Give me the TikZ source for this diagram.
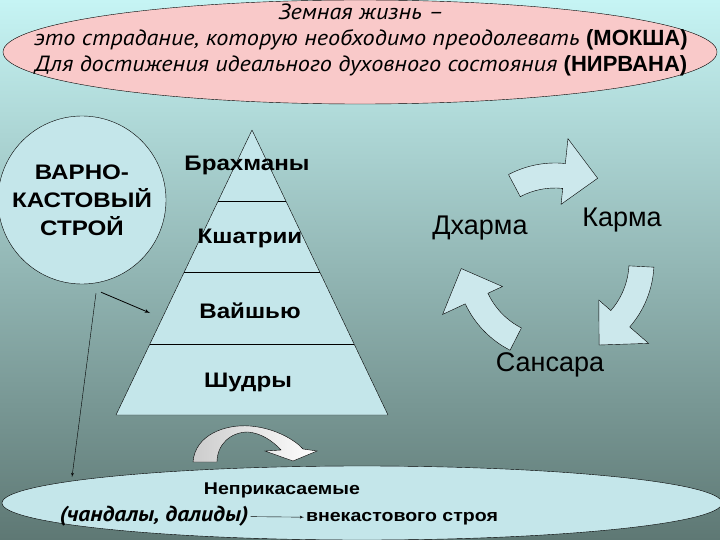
\documentclass[tikz,border=0pt]{standalone}
\usepackage{fontspec}
\setmainfont{Liberation Sans}
\newfontfamily\cursivefont[FakeStretch=1.1]{PT Sans}
\newfontfamily\widefont[FakeStretch=1.15]{Liberation Sans}
\usetikzlibrary{shapes.geometric,positioning,calc,arrows}

\definecolor{bgtop}{RGB}{198,244,244}
\definecolor{bgmid}{RGB}{158,198,198}
\definecolor{bgbot}{RGB}{94,120,116}
\definecolor{lifepink}{RGB}{249,201,201}
\definecolor{castefill}{RGB}{196,230,234}
\definecolor{cyclefill}{RGB}{204,232,236}

\tikzstyle{every node}=[text centered]
\tikzstyle{caste} = [font=\widefont\bfseries\fontsize{21}{25}\selectfont]
\tikzstyle{cycleword} = [font=\fontsize{27}{30}\selectfont]
\tikzstyle{lowtext} = [font=\widefont\bfseries\fontsize{17}{20}\selectfont, inner sep=2pt]
\tikzstyle{line} = [draw, -latex']
\tikzstyle{cyclearrowstyle} = [draw, fill=cyclefill, line join=miter]

\newcommand\cyclearrow[2]{%
  \draw[cyclearrowstyle] (#1:99) arc[start angle=#1,end angle=#2+21,radius=99]
    -- (#2+21:124) -- (#2:94) -- (#2+21:58) -- (#2+21:74)
    arc[start angle=#2+21,end angle=#1,radius=74] -- cycle;}

\begin{document}
\begin{tikzpicture}[x=1pt,y=-1pt,line join=round,>=latex']
    \shade[top color=bgtop,middle color=bgmid,bottom color=bgbot] (0,0) rectangle (720,540);
    \useasboundingbox (0,0) rectangle (720,540);

    % earthly life
    \node[ellipse,draw,fill=lifepink,minimum width=714,minimum height=104,inner sep=0pt] (life) at (360,52) {};
    \node[align=center,font=\cursivefont\itshape\fontsize{22}{26}\selectfont] (lifetext) at (361,40)
      {Земная жизнь –\\это страдание, которую необходимо преодолевать {\normalfont\bfseries(МОКША)}\\Для достижения идеального духовного состояния {\normalfont\bfseries(НИРВАНА)}};

    % varna system
    \node[circle,draw,fill=castefill,minimum size=168,inner sep=0pt,align=center,
      font=\widefont\bfseries\fontsize{21}{28}\selectfont] (varna) at (82,200) {ВАРНО-\\КАСТОВЫЙ\\СТРОЙ};

    \coordinate (apex) at (252,130);
    \coordinate (baseL) at (116,415);
    \coordinate (baseR) at (388,415);
    \draw[fill=castefill] (apex) -- (baseR) -- (baseL) -- cycle;
    \foreach \f in {0.25,0.5,0.75}
      \draw ($(apex)!\f!(baseL)$) -- ($(apex)!\f!(baseR)$);

    \node[caste] (brahmins) at (247,165) {Брахманы};
    \node[caste] (kshatriya) at (250,238) {Кшатрии};
    \node[caste] (vaishya) at (250,311) {Вайшью};
    \node[caste] (shudra) at (248,382) {Шудры};

    % untouchables
    \node[ellipse,draw,fill=castefill,minimum width=720,minimum height=74,inner sep=0pt] (untouch) at (362,503) {};
    \node[lowtext] (pariah) at (282,490) {Неприкасаемые};
    \node[lowtext,anchor=base,font=\cursivefont\bfseries\itshape\fontsize{21.5}{22}\selectfont] (chandala) at (154,521) {(чандалы, далиды)};
    \node[lowtext,anchor=base] (outcast) at (402,521) {внекастового строя};
    \draw[line] (chandala) -- (outcast);

    \coordinate (pyrside) at (150,313);
    \coordinate (untouchrim) at (72,477);
    \draw[line,thick] ($(varna.south)+(19,8)$) -- (pyrside);
    \draw[line] ($(varna.south)+(14,9)$) -- (untouchrim);

    \shade[draw,left color=gray!40,right color=white,line join=miter]
      (193,462) .. controls (195,435) and (225,424) .. (250,426)
      .. controls (275,428) and (295,440) .. (303,449) -- (317,451) -- (293,461) -- (265,451) -- (281,450)
      .. controls (272,440) and (260,433) .. (248,432)
      .. controls (230,432) and (217,445) .. (217,462) -- cycle;

    % cycle
    \coordinate (cyc) at (555,262);
    \begin{scope}[shift={(cyc)},yscale=-1]
      \cyclearrow{118}{63}
      \cyclearrow{-3}{-62}
      \cyclearrow{-117}{-176}
    \end{scope}
    \node[cycleword] (dharma) at (480,228) {Дхарма};
    \node[cycleword] (karma) at (622,220) {Карма};
    \node[cycleword] (samsara) at (550,365) {Сансара};
\end{tikzpicture}
\end{document}
